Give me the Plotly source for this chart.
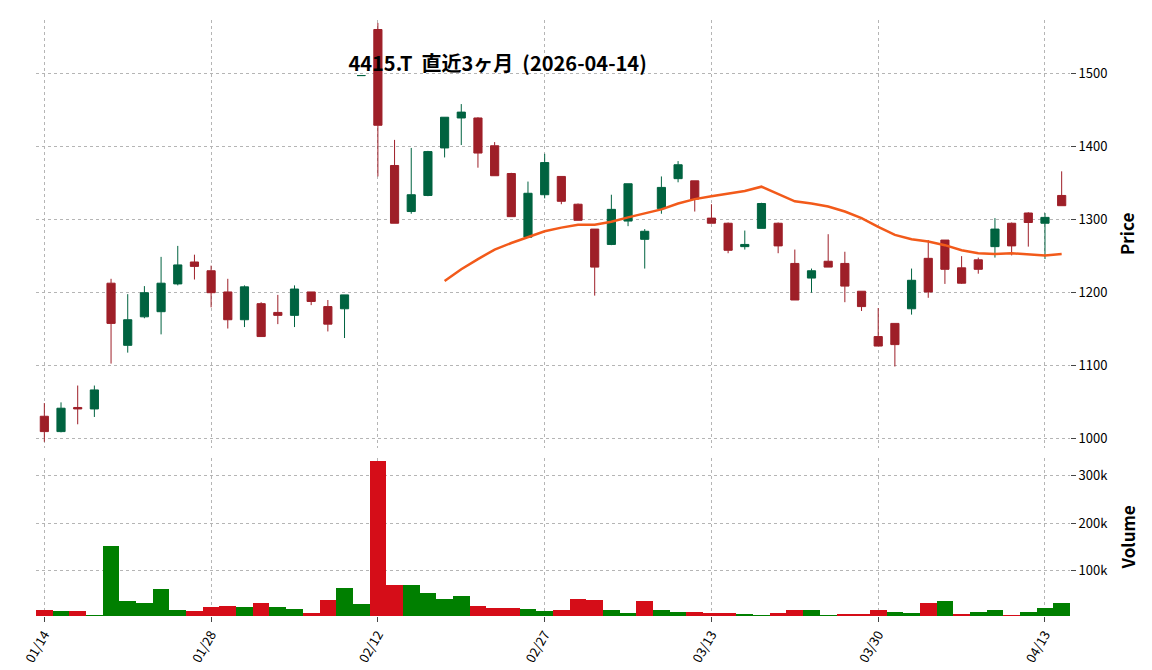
import plotly.graph_objects as go
from plotly.subplots import make_subplots

# OHLC (one bar per trading day, 01/14 .. 04/14)
opens = [1031, 1010, 1043, 1041, 1213, 1128, 1167, 1174, 1212, 1242,
         1230, 1201, 1163, 1185, 1173, 1169, 1201, 1181, 1178, 1497,
         1560, 1374, 1311, 1333, 1398, 1439, 1439, 1401, 1363, 1276,
         1334, 1359, 1321, 1287, 1266, 1298, 1273, 1315, 1356, 1353,
         1302, 1295, 1263, 1288, 1295, 1240, 1220, 1243, 1240, 1202,
         1140, 1158, 1178, 1247, 1272, 1234, 1245, 1263, 1295, 1309,
         1295, 1333]
highs = [1049, 1050, 1073, 1073, 1219, 1198, 1209, 1249, 1264, 1252,
         1237, 1219, 1210, 1187, 1197, 1210, 1201, 1190, 1197, 1497,
         1569, 1409, 1398, 1394, 1440, 1458, 1440, 1406, 1364, 1352,
         1390, 1359, 1322, 1287, 1334, 1349, 1287, 1359, 1380, 1353,
         1321, 1296, 1285, 1323, 1296, 1259, 1233, 1280, 1256, 1202,
         1179, 1158, 1233, 1272, 1272, 1250, 1248, 1302, 1296, 1310,
         1309, 1366]
lows = [996, 1009, 1020, 1030, 1103, 1118, 1165, 1143, 1210, 1218,
        1180, 1151, 1153, 1140, 1157, 1153, 1183, 1147, 1138, 1497,
        1359, 1295, 1308, 1332, 1385, 1402, 1371, 1360, 1304, 1275,
        1329, 1321, 1299, 1196, 1265, 1291, 1233, 1308, 1351, 1311,
        1295, 1254, 1259, 1288, 1254, 1190, 1200, 1235, 1187, 1175,
        1127, 1099, 1170, 1193, 1212, 1212, 1226, 1248, 1251, 1263,
        1246, 1319]
closes = [1010, 1042, 1041, 1067, 1158, 1163, 1200, 1213, 1238, 1236,
          1200, 1163, 1208, 1140, 1169, 1205, 1188, 1157, 1197, 1497,
          1429, 1295, 1334, 1393, 1440, 1447, 1391, 1360, 1304, 1336,
          1378, 1325, 1299, 1235, 1314, 1349, 1284, 1344, 1375, 1328,
          1295, 1258, 1266, 1322, 1264, 1190, 1230, 1235, 1209, 1181,
          1127, 1129, 1217, 1201, 1232, 1213, 1232, 1287, 1264, 1296,
          1303, 1319]
volumes = [19000, 15000, 15000, 6600, 153000, 36000, 32000, 63000, 19000, 15000,
           25000, 27500, 25000, 32000, 25000, 21000, 11000, 40000, 65000, 30000,
           331000, 71000, 71000, 53000, 42000, 48000, 27500, 23000, 23000, 21000,
           15000, 19000, 42000, 40000, 17000, 11000, 36000, 17000, 13000, 13000,
           11000, 11000, 8700, 6600, 11000, 17000, 17000, 6600, 8700, 8700,
           17000, 13000, 11000, 32000, 38000, 8700, 13000, 17000, 6600, 13000,
           23000, 32000]
vol_up = [0, 1, 0, 1, 1, 1, 1, 1, 1, 0,
          0, 0, 1, 0, 1, 1, 0, 0, 1, 1,
          0, 0, 1, 1, 1, 1, 0, 0, 0, 1,
          1, 0, 0, 0, 1, 1, 0, 1, 1, 0,
          0, 0, 1, 1, 0, 0, 1, 1, 0, 0,
          0, 1, 1, 0, 1, 0, 1, 1, 0, 1,
          1, 1]
# 25-day moving average as drawn (starts at bar 24)
ma_start = 24
ma25 = [1216, 1232, 1246, 1259, 1268, 1276, 1284, 1289, 1293, 1293,
        1297, 1303, 1308, 1314, 1322, 1328, 1332, 1335, 1339, 1345,
        1335, 1325, 1322, 1318, 1311, 1302, 1290, 1279, 1273, 1270,
        1265, 1258, 1254, 1253, 1254, 1253, 1251, 1253]
tick_pos = [0, 10, 20, 30, 40, 50, 60]
tick_text = ["01/14", "01/28", "02/12", "02/27", "03/13", "03/30", "04/13"]

x = list(range(len(closes)))
font = "Noto Sans CJK JP"

fig = make_subplots(rows=2, cols=1, shared_xaxes=True,
                    row_heights=[0.73, 0.27], vertical_spacing=0.017)

fig.add_trace(go.Candlestick(
    x=x, open=opens, high=highs, low=lows, close=closes,
    increasing=dict(line=dict(color="#006340", width=1), fillcolor="#006340"),
    decreasing=dict(line=dict(color="#9e1f28", width=1), fillcolor="#9e1f28"),
    whiskerwidth=0, showlegend=False), row=1, col=1)

fig.add_trace(go.Scatter(
    x=x[ma_start:], y=ma25, mode="lines",
    line=dict(color="#f25a1a", width=2.5), showlegend=False), row=1, col=1)

fig.add_trace(go.Bar(
    x=x, y=volumes, width=1,
    marker=dict(color=["#007f00" if u else "#d50d18" for u in vol_up],
                line=dict(width=0)),
    showlegend=False), row=2, col=1)

grid = dict(showgrid=True, gridcolor="#b5b5b5", griddash="dot", gridwidth=0.8,
            zeroline=False, showline=False)
fig.update_xaxes(range=[-0.5, 61.5], rangeslider_visible=False,
                 tickvals=tick_pos, ticktext=tick_text, **grid)
fig.update_xaxes(showticklabels=False, row=1, col=1)
fig.update_xaxes(tickangle=-60, ticks="outside", ticklen=5,
                 tickfont=dict(size=13), row=2, col=1)
fig.update_yaxes(side="right", ticks="outside", ticklen=5, **grid)
fig.update_yaxes(range=[988, 1573], tickvals=[1000, 1100, 1200, 1300, 1400, 1500],
                 title=dict(text="<b>Price</b>", font=dict(size=17)),
                 row=1, col=1)
fig.update_yaxes(range=[5000, 338000], tickvals=[100000, 200000, 300000],
                 title=dict(text="<b>Volume</b>", font=dict(size=17)),
                 row=2, col=1)

fig.update_layout(
    width=1152, height=670,
    margin=dict(l=20, r=90, t=12, b=58),
    paper_bgcolor="white", plot_bgcolor="white",
    font=dict(family=font, size=13, color="black"),
    bargap=0,
    title=dict(text="<b>4415.T  直近3ヶ月  (2026-04-14)</b>",
               x=0.425, xanchor="center", y=0.917, yanchor="middle",
               font=dict(size=20, family=font)),
)

fig.write_html("out.html")
